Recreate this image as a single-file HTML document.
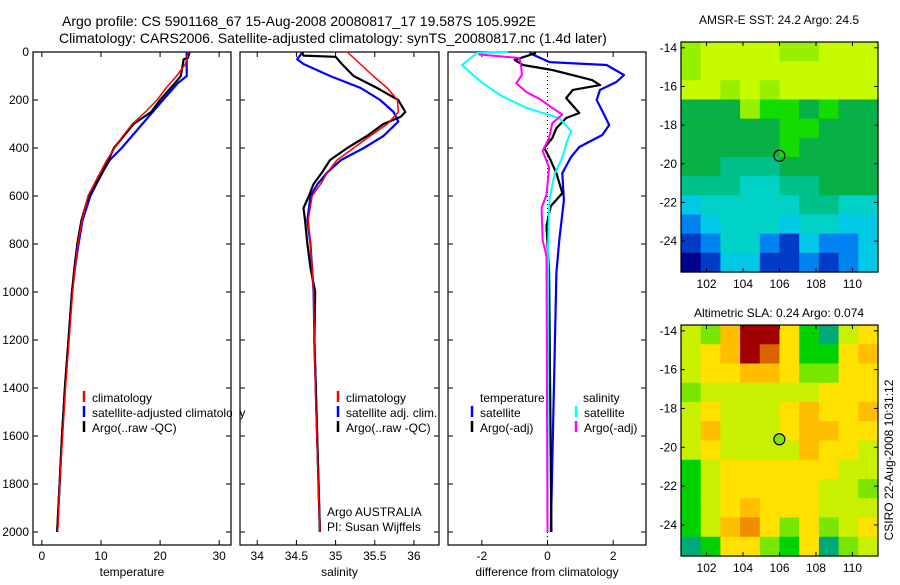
<!DOCTYPE html>
<html><head><meta charset="utf-8"><style>
body{margin:0;background:#fff;font-family:"Liberation Sans",sans-serif}
svg text{font-family:"Liberation Sans",sans-serif;fill:#000}
</style></head><body>
<svg id="s" width="900" height="580" xmlns="http://www.w3.org/2000/svg">
<rect width="900" height="580" fill="#fff"/>
<text x="62" y="26" font-size="14">Argo profile: CS 5901168_67 15-Aug-2008 20080817_17 19.587S 105.992E</text>
<text x="59" y="43" font-size="14">Climatology: CARS2006. Satellite-adjusted climatology: synTS_20080817.nc (1.4d later)</text>
<text x="779" y="24" font-size="12" text-anchor="middle">AMSR-E SST: 24.2 Argo: 24.5</text>
<text x="779" y="317" font-size="12" text-anchor="middle">Altimetric SLA: 0.24 Argo: 0.074</text>
<text transform="translate(893,460) rotate(-90)" font-size="12" text-anchor="middle">CSIRO 22-Aug-2008 10:31:12</text>
<g id="g"></g>
</svg>
<script>
// ---- data ----
const tClimD=[0,50,100,150,200,250,300,350,400,450,500,600,700,800,900,1000,1200,1400,1600,1800,2000];
const tClimV=[24.8,24.3,22.8,21,19.5,17.5,15.3,13.7,12.3,11,9.9,7.8,6.8,6.1,5.6,5.2,4.6,4.0,3.5,3.0,2.7];
const tSatD=[0,100,130,200,300,400,450,500,600,700,800,900,1000,1200,1400,1600,1800,2000];
const tSatV=[24.5,24.5,23,20.5,17,13.5,11.5,10.3,8.2,6.9,6.2,5.6,5.1,4.5,3.9,3.4,3.0,2.6];
const tArgD=[0,25,30,100,130,200,250,300,400,500,600,700,800,900,1000,1200,1400,1600,1800,2000];
const tArgV=[25,24.7,24,23.5,22.5,20,18.5,15.5,12.2,10.3,7.9,6.7,6.0,5.5,5.1,4.5,3.9,3.4,3.0,2.6];
const sClimD=[0,100,150,200,250,300,350,400,450,500,550,600,700,800,1000,1200,1500,2000];
const sClimV=[35.15,35.48,35.66,35.79,35.8,35.66,35.44,35.23,35.02,34.9,34.81,34.7,34.65,34.68,34.72,34.73,34.75,34.8];
const sSatD=[0,30,50,100,150,200,250,290,350,400,450,500,550,600,700,800,1000,1200,2000];
const sSatV=[34.58,34.51,34.59,34.93,35.32,35.57,35.74,35.8,35.61,35.36,35.07,34.9,34.77,34.68,34.64,34.68,34.72,34.73,34.8];
const sArgD=[0,10,15,20,50,100,150,200,250,270,300,350,400,450,500,550,600,650,700,800,900,1000,1200,2000];
const sArgV=[34.58,34.58,34.59,35.0,35.08,35.23,35.53,35.8,35.89,35.83,35.61,35.4,35.15,34.93,34.83,34.72,34.66,34.59,34.61,34.64,34.68,34.74,34.73,34.8];
const dTSatD=[4,42,54,96,125,158,200,254,304,346,396,437,505,617,783,921,2000];
const dTSatV=[-0.55,0.06,1.8,2.33,2.1,1.6,1.5,1.7,1.88,1.67,0.97,0.72,0.45,0.5,0.36,0.27,0.1];
const dTArgD=[4,33,54,75,117,138,158,192,254,275,317,358,400,437,505,588,642,725,921,2000];
const dTArgV=[-0.35,-1.0,-0.75,0.15,1.36,1.6,0.77,0.57,0.97,0.57,0.27,0.15,-0.1,0.05,0.27,0.45,0.1,-0.03,0.05,0.12];
const dSSatD=[0,4,54,96,130,179,233,275,330,371,440,510,617,800,2000];
const dSSatV=[-1.2,-2.15,-2.6,-2.27,-1.97,-1.45,-0.64,0.36,0.72,0.6,0.45,0.21,0.06,0.02,0];
const dSArgD=[10,25,62,96,130,167,196,233,261,296,358,412,482,594,650,783,850,2000];
const dSArgV=[-2.1,-0.85,-0.8,-0.78,-0.95,-0.64,-0.24,0.15,0.45,0.15,0.05,-0.15,0.05,-0.03,-0.18,-0.15,-0.03,0];
const tTicks=[0,10,20,30], sTicks=[34,34.5,35,35.5,36], dTicks=[-2,0,2];
const depthTicks=[0,200,400,600,800,1000,1200,1400,1600,1800,2000];
const lonTicks=[102,104,106,108,110], latTicks=[-14,-16,-18,-20,-22,-24];
const sstGrid=[
[8,9,9,9,9,8,8,9,9,9],[8,9,9,9,9,9,9,9,9,9],[9,9,8,9,8,9,9,9,9,9],[6,6,6,8,7,7,6,7,6,6],
[6,6,6,6,6,7,7,6,6,6],[6,6,6,6,6,7,6,6,6,6],[6,6,5,5,5,6,6,6,6,6],[5,5,5,4,4,5,5,6,6,6],
[3,4,4,4,4,4,5,5,4,4],[2,3,4,4,4,3,4,4,3,3],[1,2,4,4,2,1,3,2,2,3],[0,1,3,3,1,1,2,1,2,3]];
const slaGrid=[
[3,2,5,8,8,4,1,0,3,4],[3,4,5,8,7,4,1,1,4,5],[3,4,4,5,5,4,2,2,4,4],[2,3,3,3,3,3,3,4,4,4],
[3,4,3,3,3,4,5,4,4,5],[3,5,3,3,3,4,5,5,4,4],[3,4,3,3,3,3,5,4,4,3],[1,3,4,4,4,4,4,4,3,3],
[1,3,4,4,4,4,4,3,3,2],[1,3,4,5,4,4,4,3,3,3],[1,3,5,6,4,2,4,2,3,4],[0,1,4,4,2,1,4,0,2,3]];
const argoLon=105.992, argoLat=-19.587;
// ---- drawing ----
const NS='http://www.w3.org/2000/svg', G=document.getElementById('g');
function el(t,a,p){const e=document.createElementNS(NS,t);for(const k in a)e.setAttribute(k,a[k]);(p||G).appendChild(e);return e;}
const top0=52, pxm=0.24;
const yD=d=>top0+d*pxm;
const panels=[
 {x0:33,x1:231,v0:-1.5,v1:32,ticks:tTicks,lab:'temperature',name:'temperature'},
 {x0:240,x1:439,v0:33.78,v1:36.32,ticks:sTicks,lab:'salinity',name:'salinity'},
 {x0:448,x1:646,v0:-3.03,v1:3.0,ticks:dTicks,lab:'difference from climatology',name:'difference'}];
const B=545;
panels.forEach((p,i)=>{
 p.fx=v=>p.x0+(v-p.v0)/(p.v1-p.v0)*(p.x1-p.x0);
 const r=el('rect',{x:p.x0,y:top0,width:p.x1-p.x0,height:B-top0,fill:'#fff',stroke:'#000','stroke-width':1.2});
 
 
 p.ticks.forEach(t=>{const x=p.fx(t);
  el('line',{x1:x,x2:x,y1:B,y2:B-5,stroke:'#000'});el('line',{x1:x,x2:x,y1:top0,y2:top0+5,stroke:'#000'});
  const tx=el('text',{x:x,y:560,'font-size':12,'text-anchor':'middle'});tx.textContent=t;
  
  });
 depthTicks.forEach(d=>{const y=yD(d);
  el('line',{x1:p.x0,x2:p.x0+5,y1:y,y2:y,stroke:'#000'});el('line',{x1:p.x1,x2:p.x1-5,y1:y,y2:y,stroke:'#000'});
  if(i==0){const tx=el('text',{x:29,y:y+4,'font-size':12,'text-anchor':'end'});tx.textContent=d;
   
   }});
 const xl=el('text',{x:(p.x0+p.x1)/2,y:576,'font-size':12,'text-anchor':'middle'});xl.textContent=p.lab;
 
 
});
const P=panels;
el('line',{x1:P[2].fx(0),x2:P[2].fx(0),y1:top0,y2:B,stroke:'#000','stroke-dasharray':'1,3'});
function line(p,D,V,c,w,name){
 const pts=D.map((d,i)=>P[p].fx(V[i]).toFixed(1)+','+yD(d).toFixed(1)).join(' ');
 const e=el('polyline',{points:pts,fill:'none',stroke:c,'stroke-width':w,'stroke-linejoin':'round'});
 
 
}
line(0,tSatD,tSatV,'#00f',2.2,'temp-satellite-line');line(0,tArgD,tArgV,'#000',2.2,'temp-argo-line');line(0,tClimD,tClimV,'#f00',1.5,'temp-climatology-line');
line(1,sSatD,sSatV,'#00f',2.2,'sal-satellite-line');line(1,sArgD,sArgV,'#000',2.2,'sal-argo-line');line(1,sClimD,sClimV,'#f00',1.5,'sal-climatology-line');
line(2,dTSatD,dTSatV,'#00f',2.2,'diff-temp-satellite-line');line(2,dTArgD,dTArgV,'#000',2.2,'diff-temp-argo-line');
line(2,dSSatD,dSSatV,'#0ff',2,'diff-sal-satellite-line');line(2,dSArgD,dSArgV,'#f0f',2,'diff-sal-argo-line');
function leg(x,y,c,txt,name){
 el('line',{x1:x,x2:x,y1:y-11,y2:y,stroke:c,'stroke-width':2.5});
 const t=el('text',{x:x+8,y:y,'font-size':12});t.textContent=txt;
 
 
}
leg(84,402,'#f00','climatology','legend-entry-climatology');
leg(84,417,'#00f','satellite-adjusted climatology','legend-entry-satellite');
el('rect',{x:232,y:405,width:7,height:16,fill:'#fff'});
leg(84,432,'#000','Argo(..raw -QC)','legend-entry-argo');
leg(338,402,'#f00','climatology','legend-entry-sal-climatology');
leg(338,417,'#00f','satellite adj. clim.','legend-entry-sal-satellite');
leg(338,432,'#000','Argo(..raw -QC)','legend-entry-sal-argo');
[['temperature',480,402],['salinity',583,402]].forEach(a=>{const t=el('text',{x:a[1],y:a[2],'font-size':12});t.textContent=a[0];
 
 });
leg(472,417,'#00f','satellite','legend-entry-temp-satellite');leg(576,417,'#0ff','satellite','legend-entry-sal-satellite-diff');
leg(472,432,'#000','Argo(-adj)','legend-entry-temp-argo');leg(576,432,'#f0f','Argo(-adj)','legend-entry-sal-argo-diff');
[['Argo AUSTRALIA',516],['PI: Susan Wijffels',531]].forEach(a=>{const t=el('text',{x:327,y:a[1],'font-size':12});t.textContent=a[0];
 
 });
// maps
const sstCols=['#00008c','#003cc8','#0082f0','#00c8e6','#00d2c8','#00c08c','#08b048','#14dc00','#96f000','#c8fa00'];
const slaCols=['#00aa78','#00d200','#78e600','#c8f000','#ffe100','#ffbe00','#f08c00','#dc6400','#a00000'];
function map(y0,y1,grid,cols,lat14,nm,fill){
 const x0=681,x1=878,lon0=100.6,lon1=111.4,latT=-13.7,latB=-25.6;
 const fx=l=>x0+(l-lon0)/(lon1-lon0)*(x1-x0), fy=l=>y0+(latT-l)/(latT-latB)*(y1-y0);
 const nr=grid.length,nc=grid[0].length,cw=(x1-x0)/nc,ch=(y1-y0)/nr;
 grid.forEach((row,r)=>row.forEach((v,c)=>{
  const e=el('rect',{x:x0+c*cw,y:y0+r*ch,width:cw+0.6,height:ch+0.6,fill:cols[v]});
  
  }));
 const f=el('rect',{x:x0,y:y0,width:x1-x0,height:y1-y0,fill:'none',stroke:'#000','stroke-width':1.2});
 
 
 lonTicks.forEach(l=>{const x=fx(l);el('line',{x1:x,x2:x,y1:y1,y2:y1-4,stroke:'#000'});el('line',{x1:x,x2:x,y1:y0,y2:y0+4,stroke:'#000'});
  const t=el('text',{x:x,y:y1+16,'font-size':12,'text-anchor':'middle'});t.textContent=l;
  
  });
 latTicks.forEach(l=>{const y=fy(l);el('line',{x1:x0,x2:x0+4,y1:y,y2:y,stroke:'#000'});el('line',{x1:x1,x2:x1-4,y1:y,y2:y,stroke:'#000'});
  const t=el('text',{x:x0-4,y:y+4,'font-size':12,'text-anchor':'end'});t.textContent=l;
  
  });
 const c=el('circle',{cx:fx(argoLon),cy:fy(argoLat),r:5.5,fill:fill,stroke:'#000','stroke-width':1.2});
 
 
}
map(42,272,sstGrid,sstCols,48,'sst-map','none');
map(325,556,slaGrid,slaCols,332,'sla-map','#7ee600');
</script>
</body></html>
